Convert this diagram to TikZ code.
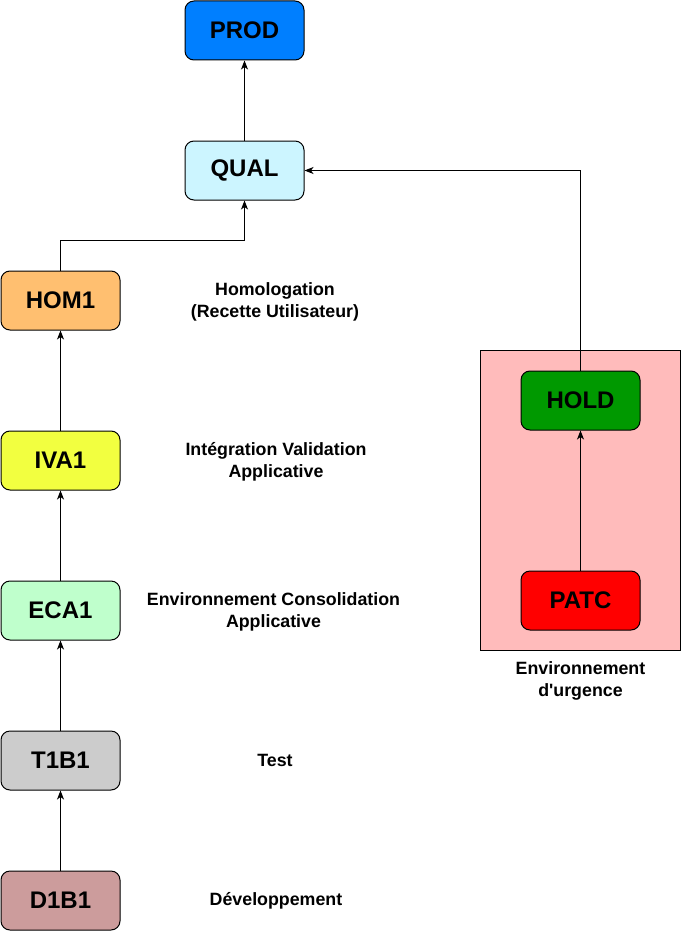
\documentclass[tikz,border=0pt]{standalone}
\usepackage{fontspec}
\setmainfont{Liberation Sans}
\usetikzlibrary{arrows.meta}
\definecolor{cprod}{RGB}{0,127,255}
\definecolor{cqual}{RGB}{204,245,255}
\definecolor{chom}{RGB}{255,191,112}
\definecolor{civa}{RGB}{242,255,64}
\definecolor{ceca}{RGB}{191,255,204}
\definecolor{ctest}{RGB}{204,204,204}
\definecolor{cdev}{RGB}{204,156,156}
\definecolor{chold}{RGB}{0,153,0}
\definecolor{cpatc}{RGB}{255,0,0}
\definecolor{cpink}{RGB}{255,187,187}
\tikzset{
  envbox/.style={draw=black, line width=1pt, rounded corners=9pt, minimum width=119pt, minimum height=59pt, inner sep=0pt,
    font=\fontsize{24}{28}\selectfont\bfseries},
  desc/.style={align=center, font=\fontsize{17.8}{22}\selectfont\bfseries, inner sep=0pt},
  conn/.style={draw=black, line width=1pt, -{Stealth[length=9pt,width=7pt,inset=2.5pt]}}
}
\begin{document}
\begin{tikzpicture}[x=1pt,y=-1pt]
\useasboundingbox (0,0) rectangle (681,931);
\fill[cpink, draw=black, line width=1pt] (480.5,350.5) rectangle (680,650);
\node[envbox, fill=cprod] (prod) at (244.5,30.5) {PROD};
\node[envbox, fill=cqual] (qual) at (244.5,170.5) {QUAL};
\node[envbox, fill=chom] (hom) at (60.5,300.5) {HOM1};
\node[envbox, fill=civa] (iva) at (60.5,460.5) {IVA1};
\node[envbox, fill=ceca] (eca) at (60.5,610.5) {ECA1};
\node[envbox, fill=ctest] (t1b1) at (60.5,760.5) {T1B1};
\node[envbox, fill=cdev] (d1b1) at (60.5,900.5) {D1B1};
\node[envbox, fill=chold] (hold) at (580.5,400.5) {HOLD};
\node[envbox, fill=cpatc] (patc) at (580.5,600.5) {PATC};
\node[desc] (lhom) at (275,301.5) {Homologation\\(Recette Utilisateur)};
\node[desc] (liva) at (276,461.5) {Intégration Validation\\Applicative};
\node[desc] (leca) at (273.5,611.5) {Environnement Consolidation\\Applicative};
\node[desc] (ltest) at (275,760.5) {Test};
\node[desc] (ldev) at (276,900.5) {Développement};
\node[desc] (lurg) at (580.5,680.5) {Environnement\\d\textquotesingle urgence};
\draw[conn] (d1b1) -- (t1b1);
\draw[conn] (t1b1) -- (eca);
\draw[conn] (eca) -- (iva);
\draw[conn] (iva) -- (hom);
\draw[conn] (hom.north) -- ++(0,-30) -| (qual.south);
\draw[conn] (qual) -- (prod);
\draw[conn] (patc) -- (hold);
\draw[conn] (hold.north) |- (qual.east);
\end{tikzpicture}
\end{document}
